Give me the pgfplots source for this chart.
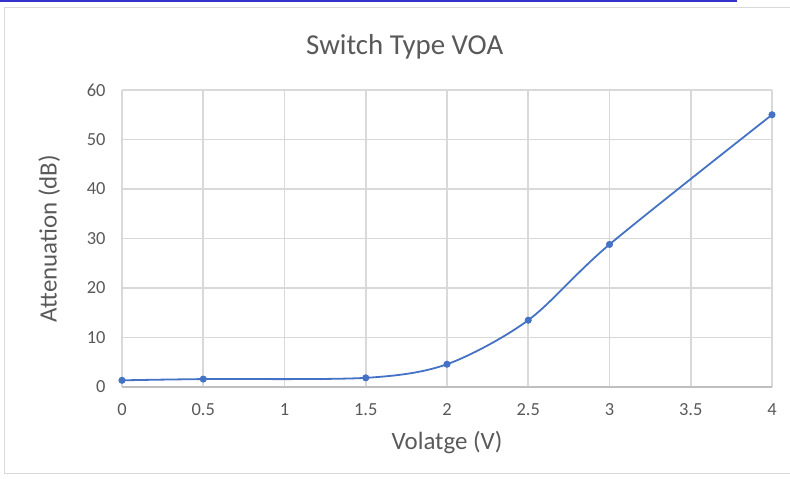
\documentclass[border=0pt]{standalone}
\usepackage{fontspec}
\setmainfont{Carlito}
\usepackage{pgfplots}
\pgfplotsset{compat=1.18}
\definecolor{txt}{HTML}{595959}
\definecolor{grd}{HTML}{D9D9D9}
\definecolor{ln}{HTML}{4472C4}
\begin{document}
\begin{tikzpicture}
\path[use as bounding box] (-122bp,-92bp) rectangle (668bp,387bp);
\draw[grd, line width=1bp] (-117bp,-86bp) rectangle (672bp,379bp);
\draw[color={rgb,255:red,51;green,51;blue,204}, line width=1.5bp] (-122bp,386bp) -- (615bp,386bp);
\begin{axis}[
  at={(0,0)}, anchor=south west,
  scale only axis,
  width=650bp, height=297bp,
  xmin=0, xmax=4, ymin=0, ymax=60,
  xtick={0,0.5,...,4}, ytick={0,10,...,60},
  xticklabels={0,0.5,1,1.5,2,2.5,3,3.5,4},
  grid=major,
  grid style={grd, line width=1.6bp},
  axis line style={draw=none},
  major tick length=0,
  tick label style={font=\fontsize{18.5}{22}\selectfont, text=txt},
  /pgf/number format/assume math mode=true,
  xticklabel style={yshift=-13bp},
  yticklabel style={xshift=-13bp},
  xlabel={Volatge (V)},
  ylabel={Attenuation (dB)},
  label style={font=\fontsize{25}{30}\selectfont, text=txt},
  xlabel style={yshift=-9bp},
  ylabel style={yshift=20bp},
  title={Switch Type VOA},
  title style={font=\fontsize{29}{34}\selectfont, text=txt, at={(0.435,1)}, yshift=21bp},
  clip=false,
]
\draw[color={rgb,255:red,191;green,191;blue,191}, line width=1.6bp] (axis cs:0,0) -- (axis cs:4,0);
\addplot[ln, line width=1.8bp, smooth, tension=0.5, mark=*, mark size=2.6bp, mark options={fill=ln, draw=ln}]
coordinates {(0,1.35) (0.5,1.6) (1.5,1.85) (2,4.6) (2.5,13.5) (3,28.8) (4,55.0)};
\end{axis}
\end{tikzpicture}
\end{document}
